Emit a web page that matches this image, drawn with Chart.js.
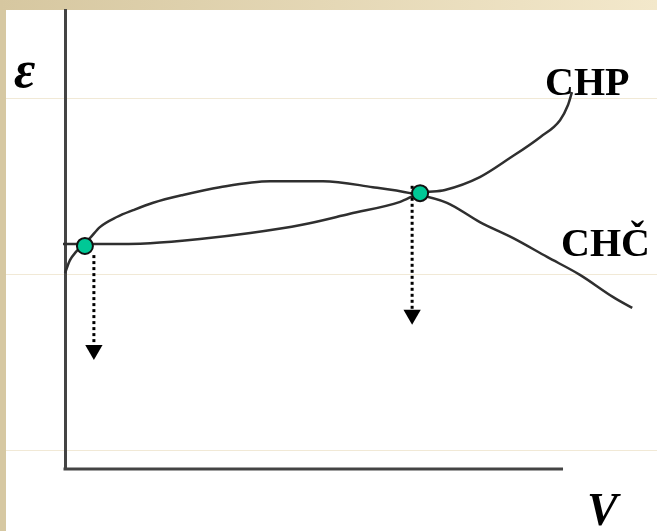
<!DOCTYPE html>
<html>
<head>
<meta charset="utf-8">
<script src="https://cdn.jsdelivr.net/npm/chart.js@4"></script>
<style>
  html, body { margin: 0; padding: 0; background: #fff; }
  #wrap {
    position: relative;
    width: 657px;
    height: 531px;
    background-color: #fff;
    background-image:
      linear-gradient(to right, #d6c7a0, #f3e8cb),
      linear-gradient(#d6c8a2, #d6c8a2),
      linear-gradient(#f1e9d6, #f1e9d6),
      linear-gradient(#f1e9d6, #f1e9d6),
      linear-gradient(#f1e9d6, #f1e9d6);
    background-repeat: no-repeat;
    background-size: 657px 10px, 6px 531px, 657px 1px, 657px 1px, 657px 1px;
    background-position: 0 0, 0 0, 6px 98px, 6px 274px, 6px 450px;
  }
  canvas { position: absolute; left: 0; top: 0; }
</style>
</head>
<body>
<div id="wrap"><canvas id="chart" width="657" height="531"></canvas></div>
<script>
// CHP curve: flat start, slow rise, then steep rise at high V
const chpV = [-0.4, 7.0, 17.1, 27.1, 37.2, 47.6, 57.2, 67.3, 71.3, 76.3, 83.3, 89.4, 95.4, 99.4, 101.0, 101.8];
const chpE = [49.0, 49.0, 49.2, 50.1, 51.4, 53.2, 55.6, 58.2, 60.1, 60.8, 63.6, 67.8, 72.3, 76.0, 79.3, 82.1];

// CHČ curve: steep start, broad maximum, then falling
const chcV = [0, 1.0, 2.2, 5.0, 7.0, 10.4, 13.7, 17.7, 23.7, 31.1, 41.2, 51.8, 61.8, 69.3, 76.7, 83.3, 90.0, 96.8, 103.4, 110.0, 113.9];
const chcE = [42.7, 45.5, 47.3, 50.3, 52.7, 54.9, 56.4, 58.0, 59.7, 61.4, 62.7, 62.7, 61.4, 60.1, 58.0, 53.8, 50.3, 46.2, 42.3, 37.5, 35.1];

// intersection points of the two curves
const crossV = [4.0, 71.3];
const crossE = [48.6, 60.1];

// dotted drop arrows below each intersection: [top, head]
const dropV = [5.8, 69.7];
const dropTop = [46.6, 61.7];
const dropHead = [25.9, 33.6];

// the drawn V axis stops at 100, the curves run a bit past it
const axisEndV = 100;

const toPts = (xs, ys) => xs.map((x, i) => ({ x: x, y: ys[i] }));

const dropSets = dropV.map((v, i) => ({
  data: [{ x: v, y: dropTop[i] }, { x: v, y: dropHead[i] }],
  borderColor: "#000",
  borderWidth: 3,
  borderDash: [3, 3],
  pointRadius: [0, 10],
  pointStyle: "triangle",
  pointRotation: 180,
  pointBackgroundColor: "#000",
  pointBorderWidth: 0,
  clip: false,
}));

const curveStyle = {
  borderColor: "#2f2f2f",
  borderWidth: 2.5,
  pointRadius: 0,
  cubicInterpolationMode: "monotone",
  clip: false,
};

// horizontal axis line, only up to axisEndV
const vAxisPlugin = {
  id: "vAxis",
  beforeDatasetsDraw(chart) {
    const x = chart.scales.x;
    const y = chart.scales.y;
    const ctx = chart.ctx;
    ctx.save();
    ctx.strokeStyle = "#444";
    ctx.lineWidth = 3;
    ctx.beginPath();
    ctx.moveTo(x.getPixelForValue(0) - 1.5, y.getPixelForValue(0));
    ctx.lineTo(x.getPixelForValue(axisEndV), y.getPixelForValue(0));
    ctx.stroke();
    ctx.restore();
  },
};

// text labels drawn on top of the plot
const labelPlugin = {
  id: "labels",
  afterDraw(chart) {
    const ctx = chart.ctx;
    ctx.save();
    ctx.fillStyle = "#000";
    ctx.textBaseline = "alphabetic";
    ctx.textAlign = "left";
    ctx.font = 'bold italic 52px "Liberation Serif", serif';
    ctx.fillText("ε", 14, 87);
    ctx.font = 'bold italic 46px "Liberation Serif", serif';
    ctx.fillText("V", 587, 525);
    ctx.font = 'bold 40px "Liberation Serif", serif';
    ctx.fillText("CHP", 545, 95);
    ctx.fillText("CHČ", 561, 256);
    ctx.restore();
  },
};

new Chart(document.getElementById("chart").getContext("2d"), {
  type: "line",
  data: {
    datasets: [
      {
        data: toPts(crossV, crossE),
        showLine: false,
        pointRadius: 8,
        pointBackgroundColor: "#00c896",
        pointBorderColor: "#111",
        pointBorderWidth: 2,
        clip: false,
      },
      ...dropSets,
      Object.assign({ label: "CHP", data: toPts(chpV, chpE) }, curveStyle),
      Object.assign({ label: "CHČ", data: toPts(chcV, chcE) }, curveStyle),
    ],
  },
  options: {
    responsive: false,
    animation: false,
    layout: { padding: { left: 65, top: 10, right: 14.3, bottom: 62 } },
    scales: {
      x: {
        type: "linear",
        min: 0,
        max: 116,
        ticks: { display: false },
        grid: { display: false, drawTicks: false },
        border: { display: false },
      },
      y: {
        type: "linear",
        min: 0,
        max: 100,
        ticks: { display: false },
        grid: { display: false, drawTicks: false },
        border: { display: true, color: "#444", width: 3 },
      },
    },
    plugins: {
      legend: { display: false },
      tooltip: { enabled: false },
    },
  },
  plugins: [vAxisPlugin, labelPlugin],
});
</script>
</body>
</html>
